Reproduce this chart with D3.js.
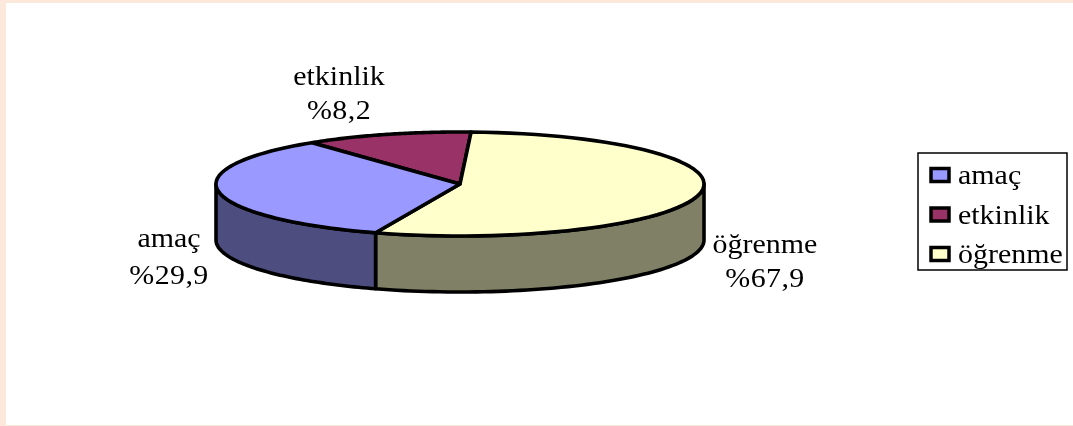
<!DOCTYPE html>
<html><head><meta charset="utf-8">
<script src="https://cdn.jsdelivr.net/npm/d3@7"></script>
<style>html,body{margin:0;padding:0;background:#fff;overflow:hidden}svg{display:block}</style>
</head><body><svg id="c" width="1073" height="426"></svg>
<script>
const categories = ["amaç","etkinlik","öğrenme"];
const percentLabels = ["%29,9","%8,2","%67,9"];
const sliceShares = [34.0,11.1,54.9];
const topColors = ["#9999ff","#993366","#ffffcc"];
const sideColors = ["#4d4d80","#4d1a33","#808066"];

const svg = d3.select("#c");
const W=1073,H=426,cx=460,cy=184,rx=244,ry=52,depth=56;
const font="'Liberation Serif',serif";
svg.append("rect").attr("width",W).attr("height",H).attr("fill","#fde9db");
svg.append("rect").attr("x",6).attr("y",3).attr("width",W-6).attr("height",422).attr("fill","#fff");
const g=svg.append("g").attr("filter","url(#soft)");
const defs=svg.append("defs");
defs.append("filter").attr("id","soft").append("feGaussianBlur").attr("stdDeviation",0.45);

const order=[1,2,0];
const start=-0.652;
const pie=d3.pie().sort(null).value(i=>sliceShares[i]).startAngle(start).endAngle(start+2*Math.PI);
const arcs=pie(order);
const pt=(a,dy=0)=>[cx+rx*Math.sin(a),cy-ry*Math.cos(a)+dy];
const line=d3.line();
const samples=(a0,a1)=>d3.range(0,65).map(k=>a0+(a1-a0)*k/64);
const sw=3.6;

arcs.forEach(d=>{
  const a0=Math.max(d.startAngle,Math.PI/2),a1=Math.min(d.endAngle,1.5*Math.PI);
  if(a1<=a0)return;
  const top=samples(a0,a1).map(a=>pt(a));
  const bot=samples(a1,a0).map(a=>pt(a,depth));
  g.append("path").attr("d",line(top.concat(bot))+"Z")
    .attr("fill",sideColors[d.data]).attr("stroke","#000").attr("stroke-width",sw).attr("stroke-linejoin","round");
});
arcs.forEach(d=>{
  const rim=samples(d.startAngle,d.endAngle).map(a=>pt(a));
  g.append("path").attr("d",line([[cx,cy]].concat(rim))+"Z")
    .attr("fill",topColors[d.data]).attr("stroke","#000").attr("stroke-width",sw).attr("stroke-linejoin","round");
});
function stretched(parent,x,y,t,anchor,sp){
  parent.append("text").attr("transform",`translate(${x},${y}) scale(1.07,1)`).attr("text-anchor",anchor)
    .attr("font-family",font).attr("font-size",28).attr("fill","#000").attr("letter-spacing",sp).text(t);
}
const labelPos=[[169,247,284],[339,85,119],[765,253,287]];
categories.forEach((c,i)=>{
  const [x,y1,y2]=labelPos[i];
  stretched(g,x,y1,c,"middle",0);
  stretched(g,x,y2,percentLabels[i],"middle",0.4);
});
const leg=g.append("g");
leg.append("rect").attr("x",918).attr("y",153).attr("width",149).attr("height",117)
  .attr("fill","#fff").attr("stroke","#000").attr("stroke-width",1.5);
const ly=d3.scalePoint().domain(categories).range([175,254]);
categories.forEach((c,i)=>{
  leg.append("rect").attr("x",931).attr("y",ly(c)-6.5).attr("width",18).attr("height",13)
    .attr("fill",topColors[i]).attr("stroke","#000").attr("stroke-width",3.5);
  stretched(leg,958,ly(c)+9,c,"start",0);
});
</script></body></html>
